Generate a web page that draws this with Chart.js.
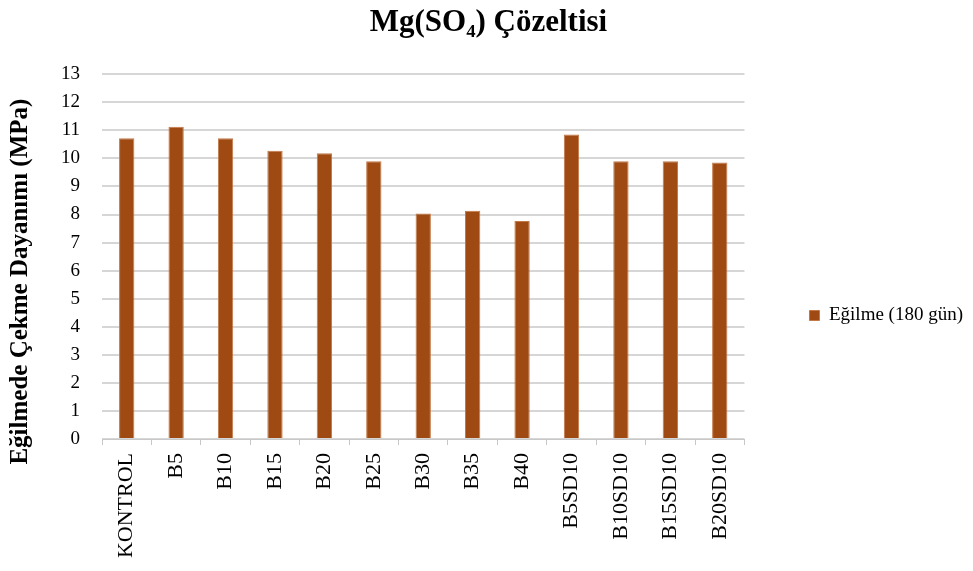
<!DOCTYPE html>
<html>
<head>
<meta charset="utf-8">
<script src="https://cdn.jsdelivr.net/npm/chart.js@4.4.1/dist/chart.umd.min.js"></script>
<style>
  html, body { margin: 0; padding: 0; background: #fff; }
  #wrap { width: 973px; height: 571px; position: relative; }
</style>
</head>
<body>
<div id="wrap"><canvas id="c" width="973" height="571"></canvas></div>
<script>
const categories = ["KONTROL", "B5", "B10", "B15", "B20", "B25", "B30", "B35", "B40", "B5SD10", "B10SD10", "B15SD10", "B20SD10"];
const seriesName = "Eğilme (180 gün)";
const values = [10.72, 11.13, 10.72, 10.27, 10.18, 9.90, 8.04, 8.13, 7.77, 10.85, 9.90, 9.90, 9.85];
const yTicks = [0, 1, 2, 3, 4, 5, 6, 7, 8, 9, 10, 11, 12, 13];
const titleText = "Mg(SO₄) Çözeltisi";
const yTitle = "Eğilmede Çekme Dayanımı (MPa)";

const serif = "'Liberation Serif', 'DejaVu Serif', serif";

new Chart(document.getElementById('c'), {
  type: 'bar',
  data: {
    labels: categories,
    datasets: [{
      label: seriesName,
      data: values,
      backgroundColor: 'rgb(158,74,18)',
      borderColor: 'rgb(196,120,70)',
      borderWidth: 1,
      barPercentage: 0.31,
      categoryPercentage: 1.0
    }]
  },
  options: {
    responsive: false,
    animation: false,
    layout: { padding: { left: 4, right: 0, top: 0, bottom: 0 } },
    plugins: {
      title: {
        display: true,
        text: titleText,
        color: '#000',
        font: { family: serif, size: 31, weight: 'bold' },
        padding: { top: 4, bottom: 33 }
      },
      legend: {
        position: 'right',
        title: {
          display: true,
          text: ' ',
          font: { size: 10 },
          padding: { top: 24, bottom: 24 }
        },
        labels: {
          color: '#000',
          font: { family: serif, size: 19 },
          boxWidth: 10,
          boxHeight: 10,
          padding: 65
        }
      },
      tooltip: { enabled: false }
    },
    scales: {
      x: {
        offset: true,
        afterFit: (s) => { s.height = 132; },
        grid: {
          display: true,
          offset: true,
          drawOnChartArea: false,
          drawTicks: true,
          tickLength: 6,
          color: '#c8c8c8'
        },
        border: { display: true, color: '#c8c8c8', width: 1 },
        ticks: {
          color: '#000',
          font: { family: serif, size: 22 },
          minRotation: 90,
          maxRotation: 90,
          autoSkip: false,
          padding: 8
        }
      },
      y: {
        min: 0,
        max: 13,
        afterFit: (s) => { s.width = 98; },
        afterBuildTicks: (s) => { s.ticks = yTicks.map(v => ({ value: v })); },
        grid: {
          color: '#d6d6d6',
          lineWidth: 2,
          drawTicks: false
        },
        border: { display: false },
        ticks: {
          color: '#000',
          font: { family: serif, size: 19 },
          padding: 22
        },
        title: {
          display: true,
          text: yTitle + '\u00A0'.repeat(8),
          color: '#000',
          font: { family: serif, size: 25, weight: 'bold' },
          padding: { top: 2, bottom: 4 }
        }
      }
    }
  }
});
</script>
</body>
</html>
